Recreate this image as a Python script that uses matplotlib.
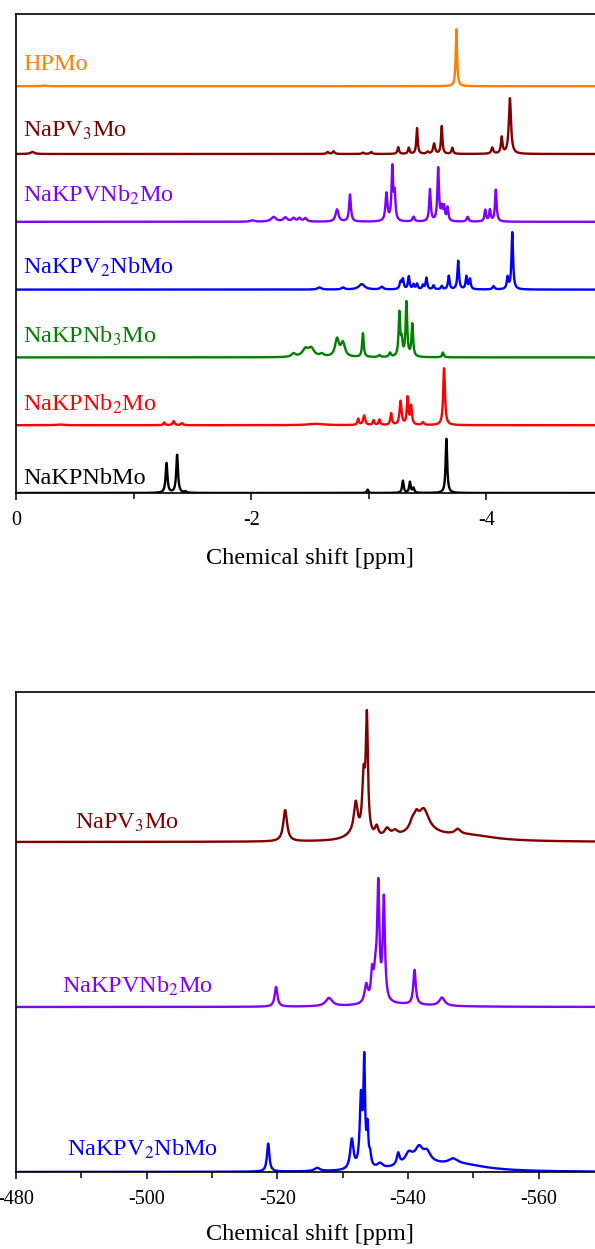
import numpy as np
import matplotlib
matplotlib.use("Agg")
import matplotlib.pyplot as plt
from matplotlib.ticker import MultipleLocator

plt.rcParams['font.family'] = ['Liberation Serif', 'DejaVu Serif']
plt.rcParams['mathtext.fontset'] = 'stix'
plt.rcParams['axes.unicode_minus'] = False

# ---------------- data: 31P spectra (peak position ppm, height, half-width) ----------------
top_names = ['HPMo', 'NaPV$_3$Mo', 'NaKPVNb$_2$Mo', 'NaKPV$_2$NbMo',
             'NaKPNb$_3$Mo', 'NaKPNb$_2$Mo', 'NaKPNbMo']
top_colors = ['#FF8000', '#800000', '#8000FF', '#0000FF', '#008000', '#FF0000', '#000000']
top_offsets = [6, 5, 4, 3, 2, 1, 0]

hpmo_pos = [-0.24, -3.745]
hpmo_h = [0.01, 0.84]
hpmo_w = [0.02, 0.007]

napv3_pos = [-0.14, -2.65, -2.70, -2.95, -3.02, -3.25, -3.34, -3.41, -3.50, -3.555, -3.62, -3.71, -4.05, -4.13, -4.20]
napv3_h = [0.03, 0.03, 0.04, 0.02, 0.03, 0.10, 0.09, 0.38, 0.03, 0.15, 0.41, 0.09, 0.09, 0.24, 0.82]
napv3_w = [0.02, 0.01, 0.01, 0.01, 0.01, 0.008, 0.008, 0.007, 0.01, 0.01, 0.007, 0.008, 0.01, 0.008, 0.011]

nakpvnb2_pos = [-2.01, -2.19, -2.29, -2.36, -2.41, -2.46, -2.73, -2.84, -3.15, -3.20, -3.22, -3.38,
                -3.52, -3.59, -3.62, -3.64, -3.67, -3.84, -3.99, -4.03, -4.08]
nakpvnb2_h = [0.02, 0.07, 0.06, 0.05, 0.05, 0.05, 0.18, 0.40, 0.41, 0.78, 0.38, 0.07,
              0.47, 0.78, 0.18, 0.20, 0.20, 0.07, 0.17, 0.17, 0.47]
nakpvnb2_w = [0.02, 0.025, 0.02, 0.015, 0.015, 0.015, 0.015, 0.009, 0.01, 0.008, 0.008, 0.01,
              0.008, 0.008, 0.008, 0.008, 0.008, 0.01, 0.008, 0.008, 0.008]

nakpv2nb_pos = [-2.58, -2.78, -2.94, -3.11, -3.27, -3.29, -3.34, -3.38, -3.41, -3.46, -3.49, -3.55,
                -3.62, -3.68, -3.76, -3.83, -3.86, -4.06, -4.18, -4.22]
nakpv2nb_h = [0.03, 0.03, 0.08, 0.04, 0.11, 0.14, 0.19, 0.07, 0.08, 0.06, 0.17, 0.06,
              0.05, 0.20, 0.42, 0.19, 0.15, 0.05, 0.17, 0.84]
nakpv2nb_w = [0.02, 0.015, 0.03, 0.015, 0.01, 0.008, 0.008, 0.008, 0.008, 0.008, 0.008, 0.008,
              0.008, 0.008, 0.008, 0.008, 0.008, 0.01, 0.008, 0.008]

nakpnb3_pos = [-2.36, -2.46, -2.51, -2.60, -2.73, -2.78, -2.95, -3.09, -3.18, -3.26, -3.28, -3.32, -3.37, -3.63]
nakpnb3_h = [0.05, 0.11, 0.12, 0.04, 0.26, 0.20, 0.35, 0.03, 0.06, 0.64, 0.22, 0.80, 0.48, 0.07]
nakpnb3_w = [0.02, 0.03, 0.03, 0.02, 0.02, 0.02, 0.008, 0.01, 0.01, 0.008, 0.008, 0.008, 0.008, 0.008]

nakpnb2_pos = [-0.37, -1.26, -1.34, -1.41, -2.55, -2.91, -2.96, -3.04, -3.09, -3.19, -3.27, -3.33, -3.36, -3.46, -3.64]
nakpnb2_h = [0.01, 0.04, 0.06, 0.03, 0.02, 0.09, 0.14, 0.07, 0.08, 0.17, 0.35, 0.40, 0.27, 0.04, 0.84]
nakpnb2_w = [0.03, 0.008, 0.01, 0.01, 0.08, 0.008, 0.01, 0.008, 0.008, 0.008, 0.01, 0.008, 0.008, 0.01, 0.009]

nakpnb_pos = [-1.28, -1.37, -1.44, -2.99, -3.29, -3.35, -3.38, -3.66]
nakpnb_h = [0.44, 0.56, 0.02, 0.05, 0.18, 0.16, 0.07, 0.80]
nakpnb_w = [0.009, 0.009, 0.01, 0.008, 0.008, 0.008, 0.008, 0.008]

top_peaks = [(hpmo_pos, hpmo_h, hpmo_w), (napv3_pos, napv3_h, napv3_w),
             (nakpvnb2_pos, nakpvnb2_h, nakpvnb2_w), (nakpv2nb_pos, nakpv2nb_h, nakpv2nb_w),
             (nakpnb3_pos, nakpnb3_h, nakpnb3_w), (nakpnb2_pos, nakpnb2_h, nakpnb2_w),
             (nakpnb_pos, nakpnb_h, nakpnb_w)]

# ---------------- data: 95Mo spectra ----------------
bot_names = ['NaPV$_3$Mo', 'NaKPVNb$_2$Mo', 'NaKPV$_2$NbMo']
bot_colors = ['#800000', '#8000FF', '#0000FF']
bot_offsets = [2, 1, 0]

mo_napv3_pos = [-521.2, -531.5, -532.0, -533.2, -533.7, -535.2, -536.8, -538.0, -540.7, -541.3, -542.4, -542.0, -547.6, -549.0]
mo_napv3_h = [0.19, 0.03, 0.19, 0.33, 0.70, 0.06, 0.05, 0.03, 0.05, 0.06, 0.12, 0.06, 0.03, 0.035]
mo_napv3_w = [0.35, 1.5, 0.35, 0.25, 0.2, 0.3, 0.5, 0.5, 0.5, 0.4, 0.9, 3.0, 0.5, 5.0]

mo_nakpvnb2_pos = [-519.8, -527.9, -533.6, -534.5, -535.0, -535.45, -536.3, -541.0, -545.2, -538.0]
mo_nakpvnb2_h = [0.12, 0.05, 0.11, 0.16, 0.15, 0.68, 0.62, 0.21, 0.05, 0.015]
mo_nakpvnb2_w = [0.25, 0.6, 0.3, 0.2, 0.3, 0.2, 0.2, 0.22, 0.5, 6.0]

mo_nakpv2nb_pos = [-518.6, -526.1, -531.4, -532.8, -533.3, -533.8, -534.2, -535.7, -538.5,
                   -541.5, -548.0, -540.1, -541.7, -542.9, -546.9]
mo_nakpv2nb_h = [0.17, 0.02, 0.18, 0.42, 0.62, 0.22, 0.07, 0.03, 0.07, 0.07, 0.04, 0.05, 0.06, 0.05, 0.03]
mo_nakpv2nb_w = [0.22, 0.5, 0.3, 0.22, 0.15, 0.15, 0.2, 0.5, 0.25, 2.5, 5.0, 0.6, 0.6, 0.6, 0.8]

bot_peaks = [(mo_napv3_pos, mo_napv3_h, mo_napv3_w),
             (mo_nakpvnb2_pos, mo_nakpvnb2_h, mo_nakpvnb2_w),
             (mo_nakpv2nb_pos, mo_nakpv2nb_h, mo_nakpv2nb_w)]


def spectrum(x, pos, h, w):
    y = np.zeros_like(x)
    for p, a, g in zip(pos, h, w):
        y += a / (1.0 + ((x - p) / g) ** 2)
    return y


W, H = 595, 1249
fig = plt.figure(figsize=(W / 100, H / 100), dpi=100)

ax1 = fig.add_axes([16 / W, 1 - 493 / H, 588 / W, 479 / H])
ax2 = fig.add_axes([16 / W, 1 - 1172 / H, 588 / W, 480 / H])

lw = 1.7
label_fs = 17.5
tick_fs = 14.5

# top panel
x1 = np.linspace(0, -5, 8000)
top_text_dy = [0.24, 0.25, 0.29, 0.24, 0.22, 0.22, 0.13]
for (pos, h, w), name, c, off, dy in zip(top_peaks, top_names, top_colors, top_offsets, top_text_dy):
    ax1.plot(x1, spectrum(x1, pos, h, w) + off, color=c, lw=lw)
    ax1.text(-0.06, off + dy, name, color=c, fontsize=label_fs, va='baseline', ha='left')
ax1.set_xlim(0, -5)
ax1.set_ylim(0, 479 / 67.8)
ax1.xaxis.set_major_locator(MultipleLocator(2))
ax1.xaxis.set_minor_locator(MultipleLocator(1))

# bottom panel
x2 = np.linspace(-480, -570, 8000)
bot_text_x = [-489.0, -487.0, -487.8]
bot_text_dy = [0.08, 0.085, 0.10]
for (pos, h, w), name, c, off, tx, dy in zip(bot_peaks, bot_names, bot_colors, bot_offsets, bot_text_x, bot_text_dy):
    ax2.plot(x2, spectrum(x2, pos, h, w) + off, color=c, lw=lw)
    ax2.text(tx, off + dy, name, color=c, fontsize=label_fs, va='baseline', ha='left')
ax2.set_xlim(-480, -570)
ax2.set_ylim(0, 480 / 165.0)
ax2.xaxis.set_major_locator(MultipleLocator(20))
ax2.xaxis.set_minor_locator(MultipleLocator(10))

for ax, lp in ((ax1, 13), (ax2, 11)):
    ax.set_yticks([])
    ax.spines['right'].set_visible(False)
    for s in ('left', 'top', 'bottom'):
        ax.spines[s].set_linewidth(1.2)
    ax.tick_params(axis='x', which='major', direction='out', length=5, width=1.1,
                   labelsize=tick_fs, pad=8)
    ax.tick_params(axis='x', which='minor', direction='out', length=4, width=1.1)
    ax.set_xlabel('Chemical shift [ppm]', fontsize=label_fs, labelpad=lp)

fig.savefig('out.png', dpi=100)
